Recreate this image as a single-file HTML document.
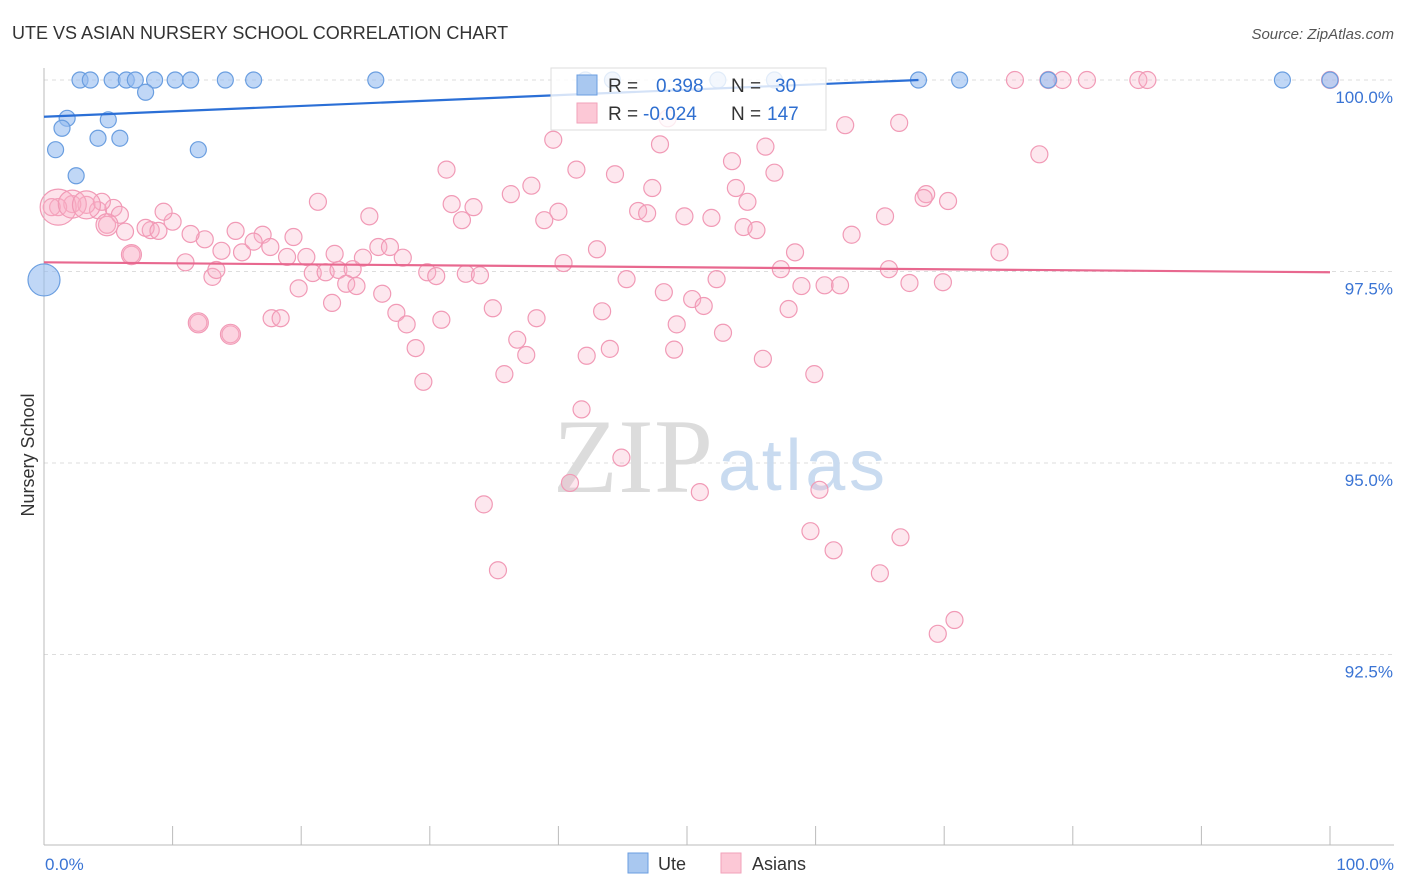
<!DOCTYPE html>
<html><head><meta charset="utf-8"><style>
body{margin:0;background:#fff;font-family:"Liberation Sans",sans-serif;}
svg{display:block}
</style></head><body>
<svg id="chart" width="1406" height="892" xmlns="http://www.w3.org/2000/svg">
<text x="12" y="39" font-size="18" fill="#333">UTE VS ASIAN NURSERY SCHOOL CORRELATION CHART</text>
<text x="1394" y="39" font-size="15" fill="#555" font-style="italic" text-anchor="end">Source: ZipAtlas.com</text>
<g id="grid"></g>
<g>
<text x="553" y="492" font-family="Liberation Serif,serif" font-size="106" fill="#dcdcdc" textLength="160">ZIP</text>
<text x="718" y="490" font-size="72" fill="#c9dbf0" textLength="167">atlas</text>
</g>
<g id="axes"></g>
<g id="pts"></g>
<g id="trends"></g>
<text transform="translate(34,455) rotate(-90)" font-size="18" fill="#333" text-anchor="middle">Nursery School</text>
<g>
<rect x="551" y="68" width="275" height="62" fill="#fff" fill-opacity="0.8" stroke="#ddd"/>
<rect x="577" y="75" width="20" height="20" fill="#a9c8f0" stroke="#6a9ee0"/>
<text x="608" y="92" font-size="19" fill="#333">R =</text>
<text x="656" y="92" font-size="19" fill="#2f6fd0">0.398</text>
<text x="731" y="92" font-size="19" fill="#333">N =</text>
<text x="775" y="92" font-size="19" fill="#2f6fd0">30</text>
<rect x="577" y="103" width="20" height="20" fill="#fcc8d6" stroke="#f2a2ba"/>
<text x="608" y="120" font-size="19" fill="#333">R =</text>
<text x="643" y="120" font-size="19" fill="#2f6fd0">-0.024</text>
<text x="731" y="120" font-size="19" fill="#333">N =</text>
<text x="767" y="120" font-size="19" fill="#2f6fd0">147</text>
</g>
<g>
<rect x="628" y="853" width="20" height="20" fill="#a9c8f0" stroke="#6a9ee0"/>
<text x="658" y="870" font-size="18" fill="#333">Ute</text>
<rect x="721" y="853" width="20" height="20" fill="#fcc8d6" stroke="#f2a2ba"/>
<text x="752" y="870" font-size="18" fill="#333">Asians</text>
</g>
</svg>
<script>
const yTicks=[100,97.5,95,92.5];
const yTickLabels=["100.0%","97.5%","95.0%","92.5%"];
const xTickLabels=["0.0%","100.0%"];
const uteX=[2.8,3.6,5.3,6.4,7.1,8.6,10.2,11.4,14.1,16.3,25.8,42.1,44.2,52.4,56.8,68.0,71.2,78.1,96.3,100,7.9,1.8,1.4,5.0,4.2,5.9,0.9,12.0,2.5,0];
const uteY=[100,100,100,100,100,100,100,100,100,100,100,100,100,100,100,100,100,100,100,100,99.84,99.50,99.37,99.48,99.24,99.24,99.09,99.09,98.75,97.39];
const asianX=[75.5,78.1,79.2,81.1,85.1,85.8,100,48.5,62.3,66.5,39.6,47.9,56.1,77.4,53.5,31.3,41.4,44.4,56.8,37.9,53.8,47.3,36.3,68.6,70.3,68.4,54.7,21.3,31.7,33.4,40.0,46.2,46.9,49.8,51.9,65.4,25.3,32.5,38.9,54.4,55.4,62.8,19.4,17.0,14.9,12.5,8.3,6.3,4.9,7.9,8.9,10.0,9.3,11.4,4.2,3.3,2.2,1.1,0.6,5.4,5.9,4.5,11.0,6.8,13.8,15.4,16.3,17.6,18.9,20.4,22.6,24.8,26.0,26.9,27.9,43.0,58.4,74.3,13.1,13.4,20.9,21.9,22.9,24.0,23.5,24.3,19.8,26.3,22.4,29.8,30.5,32.8,33.9,40.4,45.3,52.3,57.3,58.9,60.7,61.9,65.7,67.3,69.9,48.2,50.4,51.3,57.9,34.9,38.3,43.4,27.4,28.2,30.9,12.0,14.5,17.7,18.4,36.8,37.5,49.2,52.8,28.9,42.2,44.0,49.0,55.9,35.8,29.5,59.9,41.8,44.9,40.9,51.0,60.3,34.2,59.6,66.6,61.4,35.3,65.0,70.8,69.5];
const asianY=[100,100,100,100,100,100,100,99.50,99.41,99.44,99.22,99.16,99.13,99.03,98.94,98.83,98.83,98.77,98.79,98.62,98.59,98.59,98.51,98.51,98.42,98.46,98.41,98.41,98.38,98.34,98.28,98.29,98.26,98.22,98.20,98.22,98.22,98.17,98.17,98.08,98.04,97.98,97.95,97.98,98.03,97.92,98.04,98.02,98.11,98.07,98.03,98.15,98.28,97.99,98.30,98.37,98.38,98.34,98.34,98.33,98.24,98.41,97.62,97.72,97.77,97.75,97.89,97.82,97.69,97.69,97.73,97.68,97.82,97.82,97.68,97.79,97.75,97.75,97.43,97.52,97.48,97.49,97.52,97.53,97.34,97.31,97.28,97.21,97.09,97.49,97.44,97.47,97.45,97.61,97.40,97.40,97.53,97.31,97.32,97.32,97.53,97.35,97.36,97.23,97.14,97.05,97.01,97.02,96.89,96.98,96.96,96.81,96.87,96.83,96.68,96.89,96.89,96.61,96.41,96.81,96.70,96.50,96.40,96.49,96.48,96.36,96.16,96.06,96.16,95.70,95.07,94.74,94.62,94.65,94.46,94.11,94.03,93.86,93.60,93.56,92.95,92.77];
const asianBigX=[1.1,2.2,3.3,4.9,12.0,14.5,6.8];
const asianBigY=[98.34,98.38,98.37,98.11,96.83,96.68,97.72];
const asianBigR=[18,14,14,11,10,10,10];
const uteTrend=[[0,99.52],[68,100]];
const asianTrend=[[0,97.62],[100,97.49]];
const NS="http://www.w3.org/2000/svg";
const X=v=>44+v*12.86, Y=v=>80+(100-v)*76.6;
function mk(t,a,p){const e=document.createElementNS(NS,t);for(const k in a)e.setAttribute(k,a[k]);p.appendChild(e);return e;}
const grid=document.getElementById('grid'),axes=document.getElementById('axes'),pts=document.getElementById('pts'),tr=document.getElementById('trends');
yTicks.forEach((t,i)=>{
 const l=mk('line',{x1:44,x2:1394,y1:Y(t),y2:Y(t),stroke:'#ddd','stroke-dasharray':'4,4'},grid);
 
 
 const tx=mk('text',{x:1393,y:Y(t)+23,'font-size':17,fill:'#3a74d4','text-anchor':'end'},axes);
 tx.textContent=yTickLabels[i];
 
 
});
mk('line',{x1:44,x2:44,y1:68,y2:845,stroke:'#bbb'},axes);
mk('line',{x1:44,x2:1394,y1:845,y2:845,stroke:'#bbb'},axes);
for(let i=0;i<=10;i++){const t=mk('line',{x1:X(i*10),x2:X(i*10),y1:826,y2:845,stroke:'#bbb'},axes);}
[0,100].forEach((v,i)=>{const t=mk('text',{x:i?1394:45,y:870,'font-size':17,fill:'#3a74d4','text-anchor':i?'end':'start'},axes);t.textContent=xTickLabels[i];});
asianX.forEach((x,i)=>{const c=mk('circle',{cx:X(x),cy:Y(asianY[i]),r:8.5,fill:'rgba(248,175,198,0.3)',stroke:'#f19ab6','stroke-width':1.2},pts);
 
 });
asianBigX.forEach((x,i)=>{const c=mk('circle',{cx:X(x),cy:Y(asianBigY[i]),r:asianBigR[i],fill:'rgba(248,175,198,0.35)',stroke:'#f19ab6','stroke-width':1.2},pts);
 
 });
uteX.forEach((x,i)=>{const c=mk('circle',{cx:X(x),cy:Y(uteY[i]),r:i==29?16:8,fill:'rgba(150,188,240,0.6)',stroke:'#6a9ee0','stroke-width':1.2},pts);
 
 });
const t1=mk('line',{x1:X(uteTrend[0][0]),y1:Y(uteTrend[0][1]),x2:X(uteTrend[1][0]),y2:Y(uteTrend[1][1]),stroke:'#2b6fd6','stroke-width':2.2},tr);


const t2=mk('line',{x1:X(asianTrend[0][0]),y1:Y(asianTrend[0][1]),x2:X(asianTrend[1][0]),y2:Y(asianTrend[1][1]),stroke:'#e8688f','stroke-width':2.2},tr);


</script>
</body></html>
